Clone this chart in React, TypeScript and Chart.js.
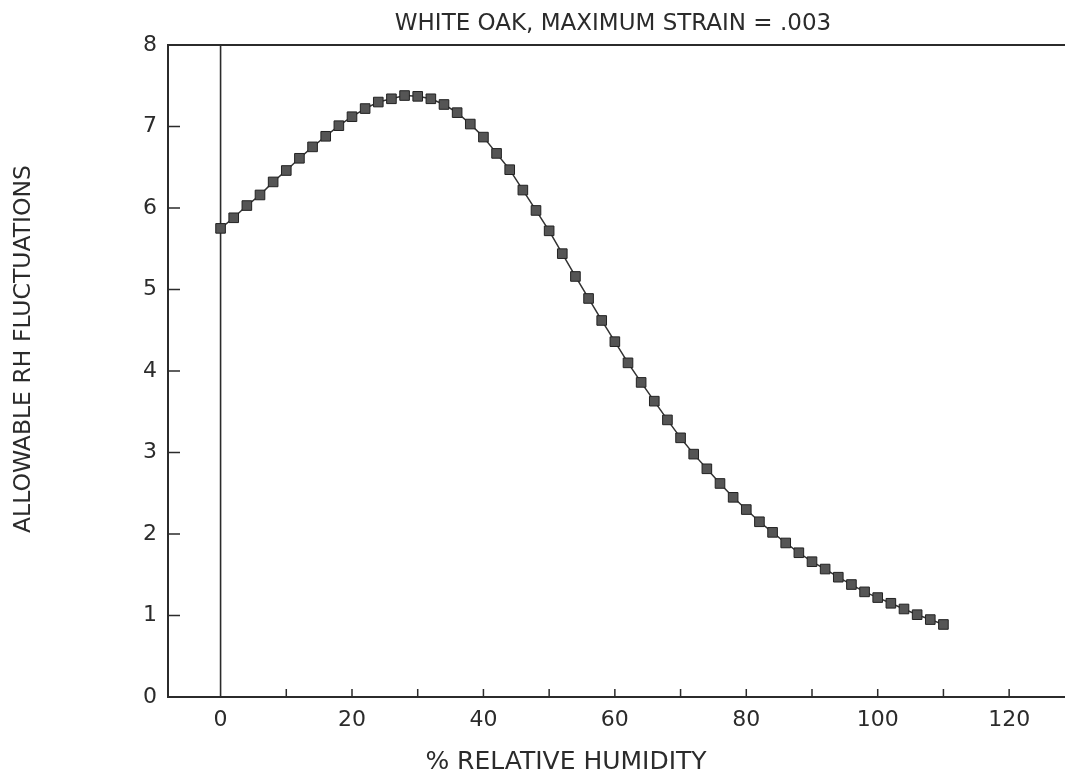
import React, { useEffect, useRef } from 'react';
import { Chart, registerables } from 'chart.js';

Chart.register(...registerables);

// % relative humidity (x) and allowable RH fluctuations (y)
const humidity = [
  0, 2, 4, 6, 8, 10, 12, 14, 16, 18, 20, 22, 24, 26, 28, 30, 32, 34, 36, 38,
  40, 42, 44, 46, 48, 50, 52, 54, 56, 58, 60, 62, 64, 66, 68, 70, 72, 74, 76, 78,
  80, 82, 84, 86, 88, 90, 92, 94, 96, 98, 100, 102, 104, 106, 108, 110,
];
const allowableRH = [
  5.75, 5.88, 6.03, 6.16, 6.32, 6.46, 6.61, 6.75, 6.88, 7.01, 7.12, 7.22, 7.3, 7.34, 7.38, 7.37, 7.34, 7.27, 7.17, 7.03,
  6.87, 6.67, 6.47, 6.22, 5.97, 5.72, 5.44, 5.16, 4.89, 4.62, 4.36, 4.1, 3.86, 3.63, 3.4, 3.18, 2.98, 2.8, 2.62, 2.45,
  2.3, 2.15, 2.02, 1.89, 1.77, 1.66, 1.57, 1.47, 1.38, 1.29, 1.22, 1.15, 1.08, 1.01, 0.95, 0.89,
];

const X_MIN = -8;
const X_MAX = 128.5;
const xLabelValues = [0, 20, 40, 60, 80, 100, 120];
const xTickMarks = [10, 20, 30, 40, 50, 60, 70, 80, 90, 100, 110, 120];
const yTickMarks = [1, 2, 3, 4, 5, 6, 7];

const chartTitle = 'WHITE OAK, MAXIMUM STRAIN = .003';
const xTitle = '% RELATIVE HUMIDITY';
const yTitle = 'ALLOWABLE RH FLUCTUATIONS';

const FONT = '"DejaVu Sans", "Liberation Sans", sans-serif';
const INK = '#2b2b2b';

const framePlugin = {
  id: 'frame',
  beforeDatasetsDraw(chart: any) {
    const { ctx, chartArea: a, scales } = chart;
    const x = scales.x;
    const y = scales.y;
    ctx.save();
    ctx.strokeStyle = INK;
    ctx.lineCap = 'butt';
    ctx.lineWidth = 2;
    ctx.beginPath();
    ctx.moveTo(a.right, a.top);
    ctx.lineTo(a.left, a.top);
    ctx.lineTo(a.left, a.bottom);
    ctx.lineTo(a.right, a.bottom);
    ctx.stroke();
    ctx.lineWidth = 1.6;
    const x0 = x.getPixelForValue(0);
    ctx.beginPath();
    ctx.moveTo(x0, a.top);
    ctx.lineTo(x0, a.bottom);
    ctx.stroke();
    ctx.lineWidth = 1.5;
    ctx.beginPath();
    xTickMarks.forEach((v) => {
      const px = x.getPixelForValue(v);
      ctx.moveTo(px, a.bottom);
      ctx.lineTo(px, a.bottom - 8);
    });
    yTickMarks.forEach((v) => {
      const py = y.getPixelForValue(v);
      ctx.moveTo(a.left, py);
      ctx.lineTo(a.left + 12, py);
    });
    ctx.stroke();
    ctx.restore();
  },
  afterDraw(chart: any) {
    const { ctx } = chart;
    ctx.save();
    ctx.fillStyle = INK;
    ctx.textAlign = 'center';
    ctx.textBaseline = 'middle';
    ctx.font = `23px ${FONT}`;
    ctx.fillText(chartTitle, 613, 24);
    ctx.font = `25px ${FONT}`;
    ctx.fillText(xTitle, 566, 762);
    ctx.translate(24, 349);
    ctx.rotate(-Math.PI / 2);
    ctx.font = `23.5px ${FONT}`;
    ctx.fillText(yTitle, 0, 0);
    ctx.restore();
  },
};

export default function App() {
  const canvasRef = useRef<HTMLCanvasElement | null>(null);

  useEffect(() => {
    const canvas = canvasRef.current;
    if (!canvas) return;
    const points = humidity.map((h, i) => ({ x: h, y: allowableRH[i] }));
    const chart = new Chart(canvas, {
      type: 'scatter',
      data: {
        datasets: [
          {
            data: points,
            showLine: true,
            borderColor: '#333333',
            borderWidth: 1.5,
            pointStyle: 'rect',
            pointRadius: 6.8,
            pointBackgroundColor: '#555555',
            pointBorderColor: '#222222',
            pointBorderWidth: 1,
            tension: 0,
          },
        ],
      },
      options: {
        responsive: false,
        animation: false,
        devicePixelRatio: 1,
        layout: { autoPadding: false, padding: { top: 45, right: 0, left: 0, bottom: 0 } },
        plugins: {
          legend: { display: false },
          tooltip: { enabled: false },
          title: { display: false },
        },
        scales: {
          x: {
            type: 'linear',
            min: X_MIN,
            max: X_MAX,
            grid: { display: false, drawTicks: false, tickLength: 0 },
            border: { display: false },
            afterBuildTicks: (scale: any) => {
              scale.ticks = xLabelValues.map((v) => ({ value: v }));
            },
            afterFit: (scale: any) => {
              scale.height = 81;
              scale.paddingLeft = 0;
              scale.paddingRight = 0;
            },
            ticks: {
              autoSkip: false,
              maxRotation: 0,
              padding: 10,
              color: INK,
              font: { family: FONT, size: 22 },
            },
          },
          y: {
            type: 'linear',
            min: 0,
            max: 8,
            grid: { display: false, drawTicks: false, tickLength: 0 },
            border: { display: false },
            afterFit: (scale: any) => {
              scale.width = 168;
            },
            ticks: {
              stepSize: 1,
              padding: 11,
              color: INK,
              font: { family: FONT, size: 22 },
            },
          },
        },
      },
      plugins: [framePlugin],
    });
    return () => chart.destroy();
  }, []);

  return (
    <div style={{ position: 'absolute', left: 0, top: 0, width: 1065, height: 778, background: '#ffffff' }}>
      <canvas ref={canvasRef} width={1065} height={778} style={{ display: 'block' }} />
    </div>
  );
}
